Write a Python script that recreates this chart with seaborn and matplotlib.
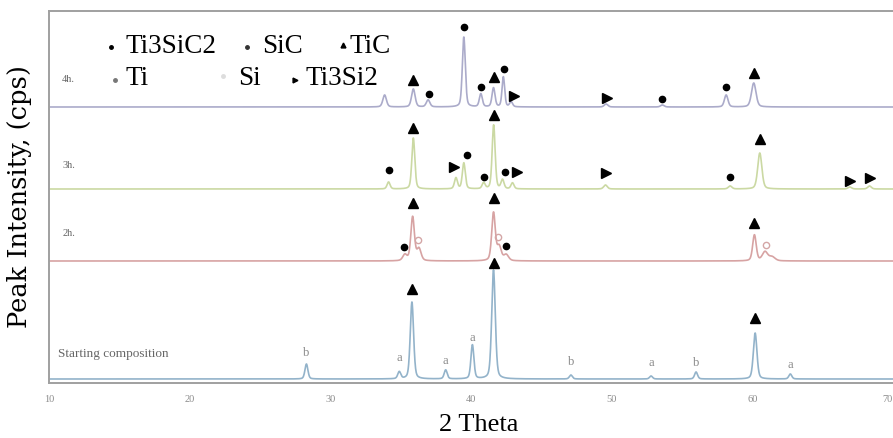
import numpy as np
import pandas as pd
import matplotlib
matplotlib.use("Agg")
import matplotlib.pyplot as plt
import seaborn as sns

# ---------------- data ----------------
samples = ["Starting composition", "2h.", "3h.", "4h."]
offsets = [4, 122, 194, 276]
colors = ["#93b3ca", "#d7a3a3", "#cbd9a3", "#ababca"]

start_pos = [28.3, 34.9, 35.8, 38.2, 40.1, 41.6, 47.1, 52.8, 56.0, 60.2, 62.7]
start_h = [15, 7, 77, 9, 34, 109, 4, 3, 7, 46, 5]
start_w = [0.25, 0.25, 0.28, 0.25, 0.25, 0.3, 0.25, 0.25, 0.25, 0.3, 0.25]

h2_pos = [35.3, 35.85, 36.3, 41.6, 42.0, 42.5, 60.15, 60.9, 61.4]
h2_h = [6, 44, 12, 48, 14, 6, 26, 9, 4]
h2_w = [0.35, 0.3, 0.35, 0.3, 0.35, 0.4, 0.3, 0.45, 0.5]

h3_pos = [34.14, 35.9, 38.93, 39.49, 40.9, 41.61, 42.24, 42.95, 49.56, 58.42, 60.53, 66.93, 68.33]
h3_h = [7, 51, 11, 26, 6, 64, 9, 6, 4, 3, 36, 2, 3]
h3_w = [0.25, 0.25, 0.25, 0.25, 0.25, 0.25, 0.25, 0.25, 0.3, 0.3, 0.35, 0.3, 0.3]

h4_pos = [33.86, 35.9, 36.95, 39.49, 40.7, 41.6, 42.3, 42.85, 49.6, 53.6, 58.14, 60.1]
h4_h = [12, 18, 7, 70, 13, 19, 30, 5, 3, 2, 12, 24]
h4_w = [0.3, 0.3, 0.3, 0.25, 0.25, 0.25, 0.22, 0.25, 0.3, 0.3, 0.3, 0.38]

peak_pos = [start_pos, h2_pos, h3_pos, h4_pos]
peak_h = [start_h, h2_h, h3_h, h4_h]
peak_w = [start_w, h2_w, h3_w, h4_w]

# phase markers (2theta, height above baseline)
tic_marks = [
    [(35.8, 90), (41.6, 116), (60.2, 61)],
    [(35.85, 58), (41.6, 63), (60.15, 38)],
    [(35.9, 61), (41.6, 74), (60.52, 50)],
    [(35.9, 27), (41.6, 30), (60.1, 34)],
]
dot_marks = [
    [],
    [(35.27, 14), (42.52, 15)],
    [(34.14, 19), (39.7, 34), (40.9, 12), (42.45, 17), (58.42, 12)],
    [(37.03, 13), (39.49, 80), (40.7, 20), (42.38, 38), (53.57, 8), (58.14, 20)],
]
tri_marks = [
    [], [],
    [(38.79, 22), (43.29, 17), (49.62, 16), (66.93, 8), (68.33, 11)],
    [(43.08, 11), (49.7, 9)],
]
si_marks = [[], [(36.26, 21), (41.89, 24), (60.94, 16)], [], []]
letter_marks = [(28.3, 26, "b"), (34.9, 21, "a"), (38.2, 18, "a"), (40.1, 41, "a"),
                (47.1, 17, "b"), (52.8, 16, "a"), (56.0, 16, "b"), (62.7, 14, "a")]

label_pos = [(10.66, 25), (10.94, 28), (10.94, 24), (10.94, 27)]

legend_labels = ["Ti3SiC2", "SiC", "TiC", "Ti", "Si", "Ti3Si2"]
xticks = [10, 20, 30, 40, 50, 60, 70]

# ---------------- build curves ----------------
x = np.linspace(10, 70, 4000)


def pattern(pos, hts, wid):
    y = np.zeros_like(x)
    for p, h, w in zip(pos, hts, wid):
        g = np.exp(-4 * np.log(2) * ((x - p) / w) ** 2)
        lz = 1.0 / (1 + 4 * ((x - p) / w) ** 2)
        y += h * (0.65 * g + 0.35 * lz)
    return y


rows = []
for s, off, pos, hts, wid in zip(samples, offsets, peak_pos, peak_h, peak_w):
    y = pattern(pos, hts, wid) + off
    rows.append(pd.DataFrame({"theta": x, "intensity": y, "sample": s}))
df = pd.concat(rows, ignore_index=True)

# ---------------- plot ----------------
sns.set_style("white")
fig = plt.figure(figsize=(8.93, 4.38), dpi=100)
ax = fig.add_axes([49 / 893, (438 - 383) / 438, 1 - 49 / 893, (383 - 11) / 438])

sns.lineplot(data=df, x="theta", y="intensity", hue="sample", hue_order=samples,
             palette=colors, estimator=None, sort=False, legend=False,
             linewidth=1.2, ax=ax)

ax.set_xlim(10, 70)
ax.set_ylim(0, 372)

for off, tics, dots, tris, sis in zip(offsets, tic_marks, dot_marks, tri_marks, si_marks):
    if tics:
        ax.plot([t for t, _ in tics], [off + h for _, h in tics], ls="none",
                marker="^", ms=6.5, color="black")
    if dots:
        ax.plot([t for t, _ in dots], [off + h for _, h in dots], ls="none",
                marker="o", ms=4.5, color="black")
    if tris:
        ax.plot([t for t, _ in tris], [off + h for _, h in tris], ls="none",
                marker=">", ms=6.5, color="black")
    if sis:
        ax.plot([t for t, _ in sis], [off + h for _, h in sis], ls="none",
                marker="o", ms=4.5, mfc="none", mec="#d4a6a6", mew=1.0)

for t, h, s in letter_marks:
    ax.text(t, offsets[0] + h, s, ha="center", va="center", fontsize=9,
            family="Liberation Serif", color="#8a8a8a")

for s, off, (lx, ly) in zip(samples, offsets, label_pos):
    ax.text(lx, off + ly, s, ha="left", va="center",
            fontsize=9.5 if s.startswith("Start") else 7.5,
            family="Liberation Serif", color="#666666")

# legend as text
leg_text_pos = [(126, 53), (262, 53), (350, 53), (126, 85), (238, 85), (305, 85)]
leg_mark_pos = [(111, 47), (247, 47), (343, 45), (115, 80), (223, 76), (295, 80)]
leg_mark_style = [dict(marker="o", ms=2.5, color="black"),
                  dict(marker="o", ms=2.5, color="#333333"),
                  dict(marker="^", ms=3.5, color="black"),
                  dict(marker="o", ms=2.5, color="#777777"),
                  dict(marker="o", ms=2.5, color="#dddddd"),
                  dict(marker=">", ms=3.5, color="black")]
for lab, (tx, ty), (mx, my), st in zip(legend_labels, leg_text_pos, leg_mark_pos, leg_mark_style):
    fig.text(tx / 893, 1 - ty / 438, lab, ha="left", va="baseline",
             fontsize=19.5, family="Liberation Serif", color="black")
    fig.add_artist(plt.Line2D([mx / 893], [1 - my / 438], ls="none",
                              transform=fig.transFigure, **st))

ax.set_xticks(xticks)
ax.set_xticklabels([str(v) for v in xticks], fontsize=7.5, color="#8c8c8c",
                   family="Liberation Serif")
last = ax.get_xticklabels()[-1]
last.set_horizontalalignment("right")
ax.tick_params(axis="x", length=3, width=0.8, color="#a0a0a0", pad=6, direction="out")
ax.set_yticks([])

for side in ["left", "bottom", "top"]:
    ax.spines[side].set_color("#a0a0a0")
    ax.spines[side].set_linewidth(1.4)
ax.spines["right"].set_visible(False)

ax.set_xlabel("")
ax.set_ylabel("")
fig.text(479 / 893, 1 - 431 / 438, "2 Theta", ha="center", va="baseline",
         fontsize=19, family="Liberation Serif", color="black")
fig.text(20 / 893, 1 - 197 / 438, "Peak Intensity, (cps)", ha="center", va="center",
         rotation=90, fontsize=18.5, family="DejaVu Serif", color="black")

fig.savefig("out.png", dpi=100)
